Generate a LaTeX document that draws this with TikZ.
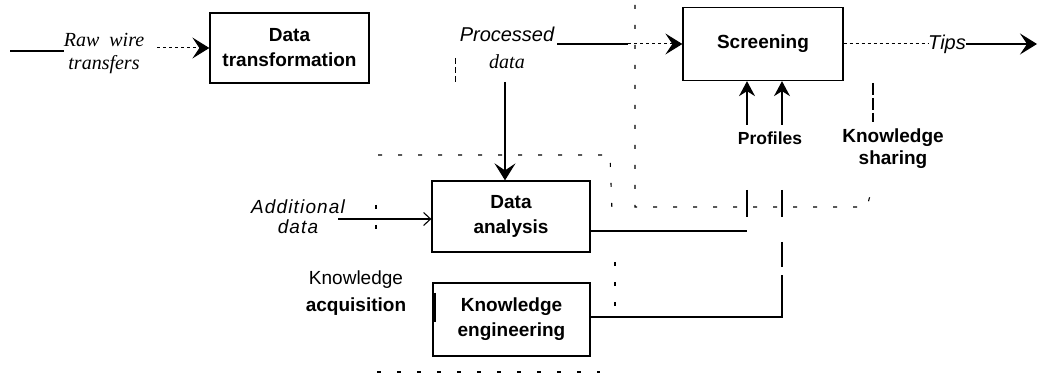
\documentclass[tikz,border=0pt]{standalone}
\usepackage{fontspec}
\setmainfont{Liberation Sans}
\newfontfamily\timesf{Liberation Serif}[ItalicFont={Liberation Serif Italic}]
\usetikzlibrary{arrows.meta}
\begin{document}
\begin{tikzpicture}[x=1pt,y=-1pt,
  box/.style={draw, line width=1.3pt, align=center, inner sep=0pt,
    font=\fontsize{19}{25}\selectfont\bfseries},
  lab/.style={align=center, inner sep=0pt},
  ln/.style={line width=1.1pt},
  dotln/.style={line width=1pt, dash pattern=on 3pt off 3pt},
  bnd/.style={line width=1.1pt, dash pattern=on 4pt off 16pt},
  arr/.style={-{Stealth[length=17pt,width=21pt,inset=7pt]}},
  smarr/.style={-{Stealth[length=15pt,width=16pt,inset=5pt]}},
  openarr/.style={-{Straight Barb[length=7pt,width=13pt]}},
]
\useasboundingbox (0,0) rectangle (1039,379);

% boxes
\node[box, minimum width=159pt, minimum height=70pt] (dt) at (289.5,48) {Data\\transformation};
\node[box, minimum width=160pt, minimum height=73pt] (scr) at (763,44) {Screening};
\node[box, minimum width=158pt, minimum height=71pt] (da) at (511,216.5) {Data\\analysis};
\node[box, minimum width=157pt, minimum height=73pt] (ke) at (511.5,319.5) {Knowledge\\engineering};

% labels
\node[lab, font=\timesf\itshape\fontsize{20}{23}\selectfont] (raw) at (104,54) {Raw\ \ wire\\transfers};
\node[lab, font=\fontsize{20}{27}\selectfont] (pd) at (507,48) {\itshape Processed\\{\timesf\itshape data}};
\node[lab, font=\itshape\fontsize{19}{20}\selectfont\addfontfeatures{LetterSpace=6}] (ad) at (298,217) {Additional\\data};
\node[lab, font=\itshape\fontsize{20}{20}\selectfont] (tips) at (947,44) {Tips};
\node[lab, font=\bfseries\fontsize{17.5}{20}\selectfont] (prof) at (770,138) {Profiles};
\node[lab, font=\bfseries\fontsize{19}{22}\selectfont] (ks) at (893,149) {Knowledge\\sharing};
\node[lab, font=\fontsize{19}{27}\selectfont] (ka) at (356,293) {Knowledge\\\textbf{acquisition}};

% coordinates
\coordinate (rawL) at (10,51);
\coordinate (rawR) at (157,48);
\coordinate (p1) at (557,44);
\coordinate (p2) at (628,44);
\coordinate (pdb) at (505,82);
\coordinate (adr) at (338,219);
\coordinate (tend) at (1037,44);
\coordinate (pa1) at (747,125);
\coordinate (pa2) at (782,125);
\coordinate (daR) at (747,231);
\coordinate (keR) at (782,317);

% connectors
\draw[ln] (rawL) -- (raw.west |- rawL);
\draw[dotln, arr] (rawR) -- (dt.west);
\draw[ln] (p1) -- (p2);
\draw[dotln, arr] (p2) -- (scr.west |- p2);
\draw[ln, arr] (pdb) -- (pdb |- da.north);
\draw[ln, openarr] (adr) -- (da.west |- adr);
\draw[dotln] (scr.east) -- (tips.west);
\draw[ln, arr] (tips.east) -- (tend);
\draw[ln, smarr] (pa1) -- (pa1 |- scr.south);
\draw[ln, smarr] (pa2) -- (pa2 |- scr.south);
\draw[ln] (da.east |- daR) -- (daR);
\draw[ln] (747,190) -- (747,217);
\draw[ln] (782,190) -- (782,217);
\draw[ln] (ke.east |- keR) -- (keR) -- (782,275);
\draw[line width=2pt] (782,242) -- (782,267);
\draw[ln, dash pattern=on 12pt off 3pt] (873,83) -- (873,122);

% boundaries
\draw[bnd] (635,5) -- (635,207) -- (867,207) -- (872,188);
\draw[bnd] (378,155) -- (610,155) -- (612,212);
\draw[bnd] (376,205) -- (376,240);
\draw[bnd] (615,262) -- (615,310);
\draw[bnd] (377,372) -- (600,372);
\draw[line width=1pt, dash pattern=on 6pt off 3pt] (455,58) -- (455,82);
\draw[line width=2pt] (435,293) -- (435,322);
\end{tikzpicture}
\end{document}
